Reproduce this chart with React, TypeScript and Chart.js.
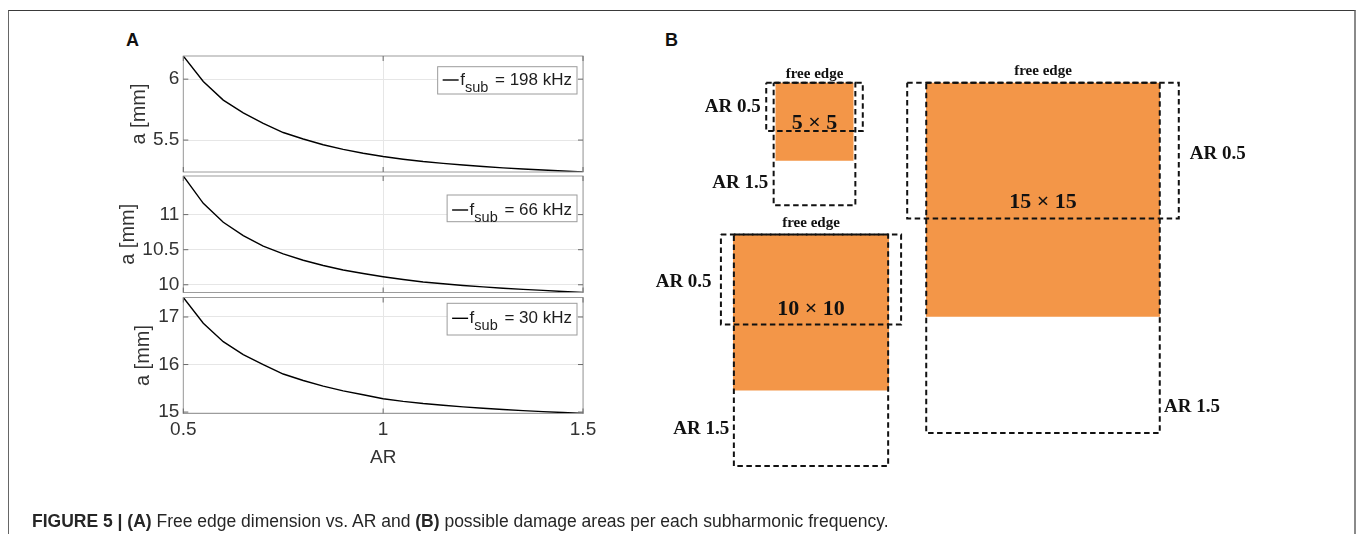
import React, { useEffect, useRef } from 'react';
import { Chart, registerables } from 'chart.js';

Chart.register(...registerables);

// ---------------- data ----------------
const arValues = [0.5, 0.55, 0.6, 0.65, 0.7, 0.75, 0.8, 0.85, 0.9, 0.95, 1.0, 1.05, 1.1, 1.15, 1.2, 1.25, 1.3, 1.35, 1.4, 1.45, 1.5];
const freeEdge198 = [6.19, 5.981, 5.828, 5.724, 5.638, 5.562, 5.509, 5.462, 5.424, 5.392, 5.365, 5.343, 5.324, 5.309, 5.295, 5.283, 5.272, 5.263, 5.254, 5.246, 5.238];
const freeEdge66 = [11.55, 11.16, 10.89, 10.7, 10.55, 10.44, 10.35, 10.275, 10.21, 10.16, 10.115, 10.075, 10.04, 10.015, 9.99, 9.97, 9.95, 9.935, 9.92, 9.905, 9.89];
const freeEdge30 = [17.41, 16.87, 16.48, 16.21, 16.0, 15.8, 15.665, 15.545, 15.445, 15.365, 15.28, 15.225, 15.18, 15.145, 15.11, 15.08, 15.055, 15.03, 15.01, 14.99, 14.97];
const subFrequencies = ['198 kHz', '66 kHz', '30 kHz'];
const yTicks198 = [5.5, 6];
const yTicks66 = [10, 10.5, 11];
const yTicks30 = [15, 16, 17];
const arTicks = [0.5, 1, 1.5];
const arTickLabels = ['0.5', '1', '1.5'];
const arLimits = [0.5, 1.5];
const damageSizes = [5, 10, 15];

// ---------------- style / layout ----------------
const SANS = '"Liberation Sans", Arial, Helvetica, sans-serif';
const SERIF = '"Liberation Serif", "Times New Roman", serif';
const TICK_COLOR = '#333333';
const GRID_COLOR = '#e6e6e6';
const FRAME_COLOR = '#9c9c9c';
const ORANGE = '#f39648';

const PLOT_LEFT = 183.3;
const PLOT_RIGHT = 583;
const CANVAS_W = 620;
const TOP_PAD = 12;
const Y_TITLE_SIZE = 20;
const X_TITLE_SIZE = 19;
const X_TITLE_Y = 458;
const TICK_SIZE = 19;

type PlotCfg = {
  values: number[];
  yTicks: number[];
  freq: string;
  plotTop: number;
  plotBottom: number;
  titleX: number;
  legendOff: number;
  legendH: number;
  legendBase: number;
  showX: boolean;
};

const PLOTS: PlotCfg[] = [
  { values: freeEdge198, yTicks: yTicks198, freq: subFrequencies[0], plotTop: 56, plotBottom: 172, titleX: 139, legendOff: 10.7, legendH: 27.3, legendBase: 18.3, showX: false },
  { values: freeEdge66, yTicks: yTicks66, freq: subFrequencies[1], plotTop: 176, plotBottom: 292.5, titleX: 128, legendOff: 19, legendH: 26.7, legendBase: 20, showX: false },
  { values: freeEdge30, yTicks: yTicks30, freq: subFrequencies[2], plotTop: 297.5, plotBottom: 413.5, titleX: 143.3, legendOff: 5.8, legendH: 31.7, legendBase: 20, showX: true },
];

function AxesPlot({ cfg }: { cfg: PlotCfg }) {
  const ref = useRef<HTMLCanvasElement>(null);
  const canvasTop = Math.floor(cfg.plotTop - TOP_PAD);
  const padTop = cfg.plotTop - canvasTop;
  const padLeft = cfg.titleX - Y_TITLE_SIZE * 0.6;
  const yWidth = PLOT_LEFT - padLeft;
  const xHeight = cfg.showX ? X_TITLE_Y + X_TITLE_SIZE * 0.6 - cfg.plotBottom : 0;
  const rawBottom = cfg.plotBottom + xHeight + (cfg.showX ? 0 : 3);
  const canvasH = Math.ceil(rawBottom - canvasTop);
  const padBottom = canvasH - (cfg.plotBottom + xHeight - canvasTop);

  useEffect(() => {
    if (!ref.current) return;
    const framePlugin = {
      id: 'frameAndLegend',
      afterDatasetsDraw(chart: any) {
        const { ctx, chartArea: ca } = chart;
        ctx.save();
        ctx.strokeStyle = FRAME_COLOR;
        ctx.lineWidth = 1;
        ctx.strokeRect(ca.left, ca.top, ca.right - ca.left, ca.bottom - ca.top);
        ctx.strokeStyle = '#6a6a6a';
        const ys = chart.scales.y;
        cfg.yTicks.forEach((v) => {
          const y = ys.getPixelForValue(v);
          ctx.beginPath();
          ctx.moveTo(ca.left, y);
          ctx.lineTo(ca.left + 5, y);
          ctx.moveTo(ca.right, y);
          ctx.lineTo(ca.right - 5, y);
          ctx.stroke();
        });
        const xs = chart.scales.x;
        arTicks.forEach((v) => {
          const x = xs.getPixelForValue(v);
          ctx.beginPath();
          ctx.moveTo(x, ca.bottom);
          ctx.lineTo(x, ca.bottom - 5);
          ctx.moveTo(x, ca.top);
          ctx.lineTo(x, ca.top + 5);
          ctx.stroke();
        });
        ctx.restore();
      },
      afterDraw(chart: any) {
        const { ctx, chartArea: ca } = chart;
        const ds = chart.data.datasets[0];
        const mainFont = `17px ${SANS}`;
        const subFont = `14.5px ${SANS}`;
        ctx.save();
        ctx.font = mainFont;
        const fW = ctx.measureText('f').width;
        const rest = ' = ' + cfg.freq;
        const restW = ctx.measureText(rest).width;
        ctx.font = subFont;
        const subW = ctx.measureText('sub').width;
        const boxW = 22.5 + fW + subW + 2 + restW + 5;
        const right = ca.right - 6;
        const left = right - boxW;
        const top = ca.top + cfg.legendOff;
        ctx.fillStyle = '#ffffff';
        ctx.fillRect(left, top, boxW, cfg.legendH);
        ctx.strokeStyle = FRAME_COLOR;
        ctx.lineWidth = 1;
        ctx.strokeRect(left, top, boxW, cfg.legendH);
        ctx.strokeStyle = ds.borderColor;
        ctx.lineWidth = 1.4;
        ctx.beginPath();
        ctx.moveTo(left + 5, top + cfg.legendBase - 5);
        ctx.lineTo(left + 21, top + cfg.legendBase - 5);
        ctx.stroke();
        ctx.fillStyle = '#1e1e1e';
        ctx.textAlign = 'left';
        ctx.textBaseline = 'alphabetic';
        ctx.font = mainFont;
        ctx.fillText('f', left + 22.5, top + cfg.legendBase);
        ctx.font = subFont;
        ctx.fillText('sub', left + 22.5 + fW, top + cfg.legendBase + 6.5);
        ctx.font = mainFont;
        ctx.fillText(rest, left + 22.5 + fW + subW + 2, top + cfg.legendBase);
        ctx.restore();
      },
    };

    const chart = new Chart(ref.current, {
      type: 'line',
      data: {
        datasets: [
          {
            label: 'f_sub = ' + cfg.freq,
            data: arValues.map((x, i) => ({ x, y: cfg.values[i] })),
            borderColor: '#000000',
            borderWidth: 1.4,
            pointRadius: 0,
            fill: false,
            tension: 0,
          },
        ],
      },
      options: {
        responsive: false,
        animation: false,
        devicePixelRatio: 1,
        events: [],
        layout: { padding: { left: padLeft, right: CANVAS_W - PLOT_RIGHT, top: padTop, bottom: padBottom } },
        plugins: { legend: { display: false }, tooltip: { enabled: false } },
        scales: {
          x: {
            type: 'linear',
            min: arLimits[0],
            max: arLimits[1],
            afterBuildTicks: (s: any) => {
              s.ticks = arTicks.map((v) => ({ value: v }));
            },
            afterFit: (s: any) => {
              s.height = xHeight;
              s.paddingLeft = 0;
              s.paddingRight = 0;
            },
            grid: { color: GRID_COLOR, drawTicks: false, lineWidth: 1 },
            border: { display: false },
            ticks: {
              display: cfg.showX,
              padding: 5,
              color: TICK_COLOR,
              font: { family: SANS, size: TICK_SIZE },
              maxRotation: 0,
              callback: (v: any) => {
                const i = arTicks.indexOf(Number(v));
                return i >= 0 ? arTickLabels[i] : String(v);
              },
            },
            title: {
              display: cfg.showX,
              text: 'AR',
              color: TICK_COLOR,
              font: { family: SANS, size: X_TITLE_SIZE },
              padding: { top: 0, bottom: 0 },
            },
          },
          y: {
            type: 'linear',
            min: Math.min(...cfg.values),
            max: Math.max(...cfg.values),
            afterBuildTicks: (s: any) => {
              s.ticks = cfg.yTicks.map((v) => ({ value: v }));
            },
            afterFit: (s: any) => {
              s.width = yWidth;
              s.paddingTop = 0;
              s.paddingBottom = 0;
            },
            grid: { color: GRID_COLOR, drawTicks: false, lineWidth: 1 },
            border: { display: false },
            ticks: {
              padding: 4,
              color: TICK_COLOR,
              font: { family: SANS, size: TICK_SIZE },
              callback: (v: any) => String(v),
            },
            title: {
              display: true,
              text: 'a [mm]',
              color: TICK_COLOR,
              font: { family: SANS, size: Y_TITLE_SIZE },
              padding: { top: 0, bottom: 0 },
            },
          },
        },
      } as any,
      plugins: [framePlugin],
    });
    return () => chart.destroy();
  }, []);

  return (
    <canvas
      ref={ref}
      width={CANVAS_W}
      height={canvasH}
      style={{ position: 'absolute', left: 0, top: canvasTop, width: CANVAS_W, height: canvasH }}
    />
  );
}

// ---------------- panel B ----------------
const B_LEFT = 640;
const B_TOP = 40;
const B_W = 640;
const B_H = 480;
const PX_PER_MM = 15.6;

const B_SERIES = [freeEdge198, freeEdge66, freeEdge30];
const B_LAYOUT = [
  { cx: 11.186, top: 2.737, freeEdgeDy: -4.5, sizeDy: -7.7, ar05Side: 'left', ar05Gap: 5.5, ar05Dy: 0.5, ar15Side: 'left', ar15Gap: 5.5, ar15Dy: -22.5 },
  { cx: 10.962, top: 12.468, freeEdgeDy: -7.2, sizeDy: -15.6, ar05Side: 'left', ar05Gap: 9.3, ar05Dy: 2.2, ar15Side: 'left', ar15Gap: 4.7, ar15Dy: -36.6 },
  { cx: 25.833, top: 2.737, freeEdgeDy: -7.7, sizeDy: -15.8, ar05Side: 'right', ar05Gap: 11, ar05Dy: 3.7, ar15Side: 'right', ar15Gap: 4.2, ar15Dy: -26.2 },
];

function rectPoints(l: number, t: number, r: number, b: number) {
  return [
    { x: l, y: t },
    { x: r, y: t },
    { x: r, y: b },
    { x: l, y: b },
    { x: l, y: t },
  ];
}

function DamagePanel() {
  const ref = useRef<HTMLCanvasElement>(null);
  useEffect(() => {
    if (!ref.current) return;
    const datasets: any[] = [];
    damageSizes.forEach((s, i) => {
      const lay = B_LAYOUT[i];
      const series = B_SERIES[i];
      const a05 = series[0];
      const a15 = series[series.length - 1];
      datasets.push({
        data: rectPoints(lay.cx - s / 2, lay.top, lay.cx + s / 2, lay.top + s),
        borderWidth: 0,
        borderColor: ORANGE,
        backgroundColor: ORANGE,
        fill: 'shape',
        pointRadius: 0,
        order: 2,
      });
      datasets.push({
        data: rectPoints(lay.cx - a05 / 2, lay.top, lay.cx + a05 / 2, lay.top + arLimits[0] * a05),
        borderWidth: 2,
        borderColor: '#111111',
        borderDash: [5.5, 3.5],
        fill: false,
        pointRadius: 0,
        order: 1,
      });
      datasets.push({
        data: rectPoints(lay.cx - a15 / 2, lay.top, lay.cx + a15 / 2, lay.top + arLimits[1] * a15),
        borderWidth: 2,
        borderColor: '#111111',
        borderDash: [5.5, 3.5],
        fill: false,
        pointRadius: 0,
        order: 1,
      });
    });

    const labelPlugin = {
      id: 'damageLabels',
      afterDatasetsDraw(chart: any) {
        const { ctx } = chart;
        const xs = chart.scales.x;
        const ys = chart.scales.y;
        ctx.save();
        ctx.fillStyle = '#111111';
        damageSizes.forEach((s, i) => {
          const lay = B_LAYOUT[i];
          const series = B_SERIES[i];
          const a05 = series[0];
          const a15 = series[series.length - 1];
          const cx = xs.getPixelForValue(lay.cx);
          const top = ys.getPixelForValue(lay.top);
          const b05Bottom = ys.getPixelForValue(lay.top + arLimits[0] * a05);
          const b15Bottom = ys.getPixelForValue(lay.top + arLimits[1] * a15);
          const b05L = xs.getPixelForValue(lay.cx - a05 / 2);
          const b05R = xs.getPixelForValue(lay.cx + a05 / 2);
          const b15L = xs.getPixelForValue(lay.cx - a15 / 2);
          const b15R = xs.getPixelForValue(lay.cx + a15 / 2);

          ctx.font = `bold 15px ${SERIF}`;
          ctx.textAlign = 'center';
          ctx.textBaseline = 'alphabetic';
          ctx.fillText('free edge', cx, top + lay.freeEdgeDy);

          ctx.font = `bold 22px ${SERIF}`;
          ctx.textBaseline = 'middle';
          ctx.fillText(`${s} \u00d7 ${s}`, cx, b05Bottom + lay.sizeDy);

          ctx.font = `bold 19px ${SERIF}`;
          const y05 = (top + b05Bottom) / 2 + lay.ar05Dy;
          if (lay.ar05Side === 'left') {
            ctx.textAlign = 'right';
            ctx.fillText(`AR ${arLimits[0]}`, b05L - lay.ar05Gap, y05);
          } else {
            ctx.textAlign = 'left';
            ctx.fillText(`AR ${arLimits[0]}`, b05R + lay.ar05Gap, y05);
          }
          const y15 = b15Bottom + lay.ar15Dy;
          if (lay.ar15Side === 'left') {
            ctx.textAlign = 'right';
            ctx.fillText(`AR ${arLimits[1]}`, b15L - lay.ar15Gap, y15);
          } else {
            ctx.textAlign = 'left';
            ctx.fillText(`AR ${arLimits[1]}`, b15R + lay.ar15Gap, y15);
          }
        });
        ctx.restore();
      },
    };

    const chart = new Chart(ref.current, {
      type: 'line',
      data: { datasets },
      options: {
        responsive: false,
        animation: false,
        devicePixelRatio: 1,
        events: [],
        layout: { padding: 0 },
        plugins: { legend: { display: false }, tooltip: { enabled: false } },
        scales: {
          x: { type: 'linear', display: false, min: 0, max: B_W / PX_PER_MM },
          y: { type: 'linear', display: false, reverse: true, min: 0, max: B_H / PX_PER_MM },
        },
      } as any,
      plugins: [labelPlugin],
    });
    return () => chart.destroy();
  }, []);

  return (
    <canvas
      ref={ref}
      width={B_W}
      height={B_H}
      style={{ position: 'absolute', left: B_LEFT, top: B_TOP, width: B_W, height: B_H }}
    />
  );
}

export default function App() {
  return (
    <div
      style={{
        position: 'absolute',
        left: 0,
        top: 0,
        width: 1360,
        height: 534,
        overflow: 'hidden',
        background: '#ffffff',
        fontFamily: SANS,
      }}
    >
      <div
        style={{
          position: 'absolute',
          left: 8,
          top: 10,
          width: 1345,
          height: 700,
          borderTop: '1px solid #3a3a3a',
          borderLeft: '1px solid #666666',
          borderRight: '2px solid #8a8a8a',
        }}
      />
      <div style={{ position: 'absolute', left: 126, top: 31, fontSize: 18, lineHeight: '18px', fontWeight: 'bold', color: '#111' }}>A</div>
      <div style={{ position: 'absolute', left: 665, top: 31, fontSize: 18, lineHeight: '18px', fontWeight: 'bold', color: '#111' }}>B</div>
      {PLOTS.map((p, i) => (
        <AxesPlot key={i} cfg={p} />
      ))}
      <DamagePanel />
      <div
        style={{
          position: 'absolute',
          left: 32,
          top: 511,
          fontSize: 17.5,
          lineHeight: '20px',
          color: '#262626',
          whiteSpace: 'nowrap',
        }}
      >
        <b>FIGURE 5 | (A)</b> Free edge dimension vs. AR and <b>(B)</b> possible damage areas per each subharmonic frequency.
      </div>
    </div>
  );
}
